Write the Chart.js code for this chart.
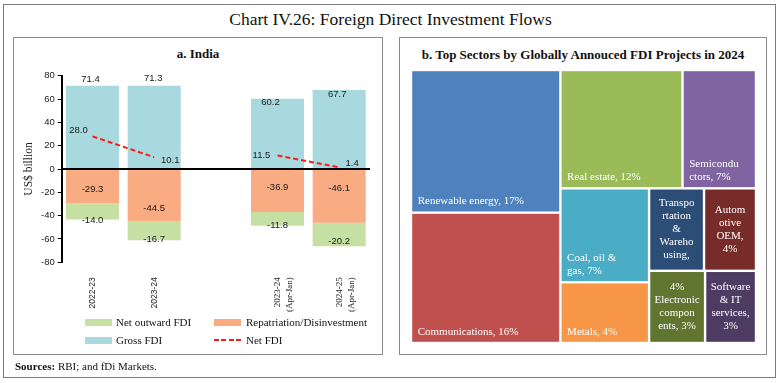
<!DOCTYPE html>
<html><head><meta charset="utf-8">
<script src="https://cdn.jsdelivr.net/npm/chart.js@4.4.1/dist/chart.umd.min.js"></script>
<style>
html,body{margin:0;padding:0;background:#fff;width:781px;height:383px;overflow:hidden;}
#outer{position:absolute;left:3px;top:4px;width:771px;height:372px;border:1.5px solid #7a7a7a;}
.panel{position:absolute;border:1.2px solid #8a8a8a;}
.t{position:absolute;font-family:"Liberation Serif",serif;color:#111;white-space:nowrap;}
.sw{position:absolute;width:27px;height:7px;}
canvas{position:absolute;}
</style></head><body>
<div id="outer"></div>
<div class="t" style="left:0;width:781px;text-align:center;top:8px;font-size:17.5px;line-height:22px;">Chart IV.26: Foreign Direct Investment Flows</div>
<div class="panel" style="left:13px;top:37px;width:368px;height:316px;"></div>
<div class="panel" style="left:399px;top:37px;width:366px;height:316px;"></div>
<div class="t" style="left:13px;width:370px;text-align:center;top:46px;font-size:13px;line-height:16px;font-weight:bold;">a. India</div>
<div class="t" style="left:399px;width:368px;text-align:center;top:47px;font-size:13px;line-height:16px;font-weight:bold;">b. Top Sectors by Globally Annouced FDI Projects in 2024</div>

<canvas id="left" width="369" height="262" style="left:13px;top:62px;"></canvas>
<canvas id="tree" width="345" height="273" style="left:411px;top:70px;"></canvas>

<div class="sw" style="left:85px;top:318.5px;background:#c6e0a3;"></div>
<div class="t" style="left:116px;top:315.5px;font-size:11px;line-height:13px;">Net outward FDI</div>
<div class="sw" style="left:214px;top:318.5px;background:#f9ab81;"></div>
<div class="t" style="left:246px;top:315.5px;font-size:11px;line-height:13px;">Repatriation/Disinvestment</div>
<div class="sw" style="left:85px;top:336.5px;background:#a8d9de;"></div>
<div class="t" style="left:116px;top:333.5px;font-size:11px;line-height:13px;">Gross FDI</div>
<div style="position:absolute;left:214px;top:339px;width:27px;height:2px;background:repeating-linear-gradient(to right,#ff1a1a 0 5px,transparent 5px 7.5px);"></div>
<div class="t" style="left:246px;top:333.5px;font-size:11px;line-height:13px;">Net FDI</div>
<div class="t" style="left:15px;top:359.5px;font-size:11px;line-height:13px;"><b>Sources:</b> RBI; and fDi Markets.</div>

<script>
// ---------- Panel a: India ----------
const categories = [["2022-23"], ["2023-24"], [""], ["2023-24", "(Apr-Jan)"], ["2024-25", "(Apr-Jan)"]];
const grossFDI = [71.4, 71.3, null, 60.2, 67.7];
const repatriation = [-29.3, -44.5, null, -36.9, -46.1];
const netOutwardFDI = [-14.0, -16.7, null, -11.8, -20.2];
const netFDI = [28.0, 10.1, null, 11.5, 1.4];
const yTicks = [-80, -60, -40, -20, 0, 20, 40, 60, 80];

// ---------- Panel b: sectors ----------
const sectors = ["Renewable energy", "Communications", "Real estate", "Semiconductors", "Coal, oil & gas",
  "Metals", "Transportation & Warehousing", "Automotive OEM", "Electronic components", "Software & IT services"];
const sectorShares = [17.4, 15.9, 11.8, 7.1, 6.8, 4.4, 3.7, 3.5, 3.3, 3.0];
const sectorLabels = [["Renewable energy, 17%"], ["Communications, 16%"], ["Real estate, 12%"], ["Semicondu", "ctors, 7%"],
  ["Coal, oil &", "gas, 7%"], ["Metals, 4%"], ["Transpo", "rtation", "&", "Wareho", "using,"], ["Autom", "otive", "OEM,", "4%"],
  ["4%", "Electronic", "compon", "ents, 3%"], ["Software", "& IT", "services,", "3%"]];
const sectorColors = ["#4f81bd", "#c0504d", "#9bbb59", "#8064a2", "#4bacc6", "#f79646", "#2c4d75", "#772c2a", "#5f7530", "#4d3b62"];

// label placement tweaks (pixels), kept apart from data
const labelTweaks = {
  gross: {dx: [-2, -1, 0, -7, -2], dy: [-6, -7, 0, 4, 4]},
  repat: {dy: [3, 13, 0, -3, -8]},
  netOut: {dy: [1, -1, 0, 0, -5]},
  net: {dx: [-14, 16, 0, -16, 13], dy: [-6, 3, 0, 0, -4]}
};

const zeroLine = {
  id: 'zeroLine',
  afterDatasetsDraw(c) {
    const ctx = c.ctx, a = c.chartArea, y = c.scales.y.getPixelForValue(0);
    ctx.save(); ctx.strokeStyle = '#000'; ctx.lineWidth = 2;
    ctx.beginPath(); ctx.moveTo(a.left, y); ctx.lineTo(a.right, y); ctx.stroke(); ctx.restore();
  }
};
const dataLabels = {
  id: 'dataLabels',
  afterDraw(c) {
    const ctx = c.ctx;
    ctx.save();
    ctx.font = '9.5px "Liberation Sans", Arial, sans-serif';
    ctx.fillStyle = '#1a1a1a'; ctx.textAlign = 'center'; ctx.textBaseline = 'middle';
    const m0 = c.getDatasetMeta(0), m1 = c.getDatasetMeta(1), m2 = c.getDatasetMeta(2), m3 = c.getDatasetMeta(3);
    for (let j = 0; j < categories.length; j++) {
      if (grossFDI[j] != null) {
        const e = m0.data[j];
        ctx.fillText(grossFDI[j].toFixed(1), e.x + labelTweaks.gross.dx[j], e.y + labelTweaks.gross.dy[j]);
      }
      if (repatriation[j] != null) {
        const e = m1.data[j];
        ctx.fillText(repatriation[j].toFixed(1), e.x, (e.y + e.base) / 2 + labelTweaks.repat.dy[j]);
      }
      if (netOutwardFDI[j] != null) {
        const e = m2.data[j];
        ctx.fillText(netOutwardFDI[j].toFixed(1), e.x, e.y + labelTweaks.netOut.dy[j]);
      }
      if (netFDI[j] != null) {
        const e = m3.data[j];
        ctx.fillText(netFDI[j].toFixed(1), e.x + labelTweaks.net.dx[j], e.y + labelTweaks.net.dy[j]);
      }
    }
    ctx.restore();
  }
};

new Chart(document.getElementById('left'), {
  type: 'bar',
  data: {
    labels: categories,
    datasets: [
      {label: 'Gross FDI', data: grossFDI, backgroundColor: '#a8d9de', stack: 's', order: 1},
      {label: 'Repatriation/Disinvestment', data: repatriation, backgroundColor: '#f9ab81', stack: 's', order: 1},
      {label: 'Net outward FDI', data: netOutwardFDI, backgroundColor: '#c6e0a3', stack: 's', order: 1},
      {type: 'line', label: 'Net FDI', data: netFDI, borderColor: '#ff1a1a', borderWidth: 2, borderDash: [5, 3],
        pointRadius: 0, fill: false, spanGaps: false, stack: 'l', order: 0, tension: 0}
    ]
  },
  options: {
    responsive: false, animation: false,
    layout: {padding: {left: 0, right: 12, top: 13.7, bottom: 0}},
    plugins: {legend: {display: false}, tooltip: {enabled: false}},
    datasets: {bar: {barPercentage: 0.86, categoryPercentage: 1}},
    scales: {
      x: {
        stacked: true,
        grid: {display: false}, border: {display: false},
        ticks: {
          maxRotation: 90, minRotation: 90, autoSkip: false, padding: 7, color: '#222',
          font: (ctx) => (ctx.index >= 3 ? {family: '"Liberation Serif", serif', size: 9, lineHeight: 1.35}
                                          : {family: '"Liberation Sans", Arial, sans-serif', size: 8.5})
        },
        afterFit(s) { s.height = 61.7; }
      },
      y: {
        stacked: true, min: -80, max: 80,
        afterBuildTicks(s) { s.ticks = yTicks.map(v => ({value: v})); },
        ticks: {color: '#222', font: {family: '"Liberation Sans", Arial, sans-serif', size: 9.5}, padding: 3},
        grid: {drawOnChartArea: false, drawTicks: true, tickLength: 4, color: '#000'},
        border: {display: true, color: '#000', width: 2},
        title: {display: true, text: 'US$ billion', color: '#222',
          font: {family: '"Liberation Serif", serif', size: 11.5}, padding: {top: 9, bottom: 0}},
        afterFit(s) { s.width = 48.7; }
      }
    }
  },
  plugins: [zeroLine, dataLabels]
});

// ---------- treemap via squarify, drawn on the chart's own scales ----------
function worst(row, side) {
  const s = row.reduce((a, b) => a + b, 0), mx = Math.max(...row), mn = Math.min(...row);
  return Math.max(side * side * mx / (s * s), (s * s) / (side * side * mn));
}
function squarify(values, rect) {
  const total = values.reduce((a, b) => a + b, 0);
  const k = rect.w * rect.h / total;
  const areas = values.map(v => v * k);
  const out = [];
  let r = Object.assign({}, rect), i = 0;
  while (i < areas.length) {
    const side = Math.min(r.w, r.h);
    let row = [areas[i]]; i++;
    while (i < areas.length) {
      const cand = row.concat([areas[i]]);
      if (worst(cand, side) <= worst(row, side)) { row = cand; i++; } else break;
    }
    const sum = row.reduce((a, b) => a + b, 0);
    if (r.w >= r.h) {
      const cw = sum / r.h; let y = r.y;
      row.forEach(a => { const h = a / cw; out.push({x: r.x, y, w: cw, h}); y += h; });
      r = {x: r.x + cw, y: r.y, w: r.w - cw, h: r.h};
    } else {
      const rh = sum / r.w; let x = r.x;
      row.forEach(a => { const w = a / rh; out.push({x, y: r.y, w, h: rh}); x += w; });
      r = {x: r.x, y: r.y + rh, w: r.w, h: r.h - rh};
    }
  }
  return out;
}
const treemapPlugin = {
  id: 'treemap',
  afterDatasetsDraw(c) {
    const ctx = c.ctx, xs = c.scales.x, ys = c.scales.y;
    const x0 = xs.getPixelForValue(0), x1 = xs.getPixelForValue(100);
    const y0 = ys.getPixelForValue(100), y1 = ys.getPixelForValue(0);
    const cells = squarify(sectorShares, {x: x0, y: y0, w: x1 - x0, h: y1 - y0});
    const gap = 1.2, lh = 13;
    ctx.save();
    ctx.font = '11px "Liberation Serif", serif';
    ctx.textBaseline = 'middle';
    cells.forEach((r, i) => {
      const rx = r.x + gap, ry = r.y + gap, rw = r.w - 2 * gap, rh = r.h - 2 * gap;
      ctx.fillStyle = sectorColors[i];
      ctx.fillRect(rx, ry, rw, rh);
      ctx.fillStyle = '#fff';
      const lines = sectorLabels[i];
      if (rw < 60) {
        ctx.textAlign = 'center';
        const cy = ry + rh / 2 - (lines.length - 1) * lh / 2;
        lines.forEach((t, k) => ctx.fillText(t, rx + rw / 2, cy + k * lh));
      } else {
        ctx.textAlign = 'left';
        const by = ry + rh - 10;
        lines.forEach((t, k) => ctx.fillText(t, rx + 5.5, by - (lines.length - 1 - k) * lh));
      }
    });
    ctx.restore();
  }
};
new Chart(document.getElementById('tree'), {
  type: 'scatter',
  data: {datasets: [{label: 'Top sectors', data: []}]},
  options: {
    responsive: false, animation: false,
    layout: {padding: 0},
    plugins: {legend: {display: false}, tooltip: {enabled: false}},
    scales: {
      x: {type: 'linear', min: 0, max: 100, display: false},
      y: {type: 'linear', min: 0, max: 100, display: false}
    }
  },
  plugins: [treemapPlugin]
});
</script>
</body></html>
